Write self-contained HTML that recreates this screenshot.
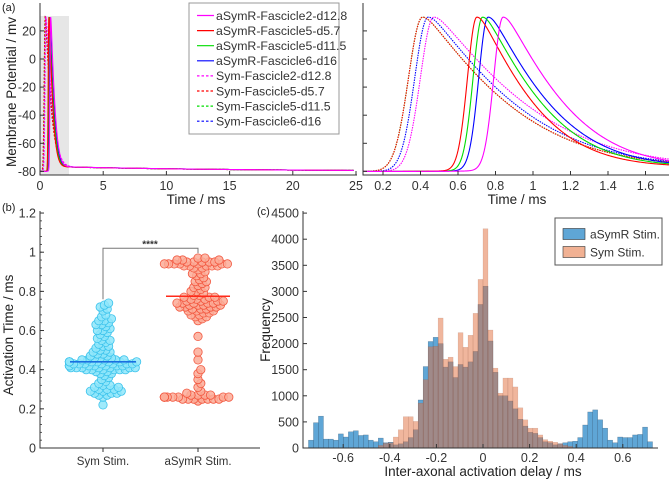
<!DOCTYPE html>
<html><head><meta charset="utf-8"><style>
html,body{margin:0;padding:0;background:#fff;}
svg{display:block;font-family:"Liberation Sans",Arial,sans-serif;}
</style></head><body>
<svg id="fig" width="669" height="479" viewBox="0 0 669 479" xmlns="http://www.w3.org/2000/svg">
<defs>
<clipPath id="clipL"><rect x="40" y="0" width="318" height="176"/></clipPath>
<clipPath id="clipR"><rect x="363" y="0" width="306" height="176"/></clipPath>
</defs>
<g id="gA"></g>
<g id="gB"></g>
<g id="gC"></g>
</svg>
<script>
// ---------- Panel (a) data ----------
const traceNames = ["aSymR-Fascicle2-d12.8","aSymR-Fascicle5-d5.7","aSymR-Fascicle5-d11.5","aSymR-Fascicle6-d16","Sym-Fascicle2-d12.8","Sym-Fascicle5-d5.7","Sym-Fascicle5-d11.5","Sym-Fascicle6-d16"];
const tracePeakTimes = [0.84,0.70,0.73,0.76,0.47,0.41,0.41,0.44];
const tracePeakV = [28,28,28,28,28,28,28,28];
const traceRestV = [-80,-80,-80,-80,-80,-80,-80,-80];
const traceDecayTau = [0.38,0.35,0.37,0.38,0.60,0.55,0.55,0.56];
const traceDecayTau2 = [0.85,0.79,0.82,0.85,1.25,1.2,1.2,1.2];
const traceRiseW = [0.07,0.07,0.07,0.07,0.10,0.105,0.105,0.10];
const traceColors = ["#ff00ff","#ff0000","#00dd00","#0000ff","#ff00ff","#ff0000","#00dd00","#0000ff"];
const traceDashed = [false,false,false,false,true,true,true,true];
const leftXTicks = [0,5,10,15,20,25];
const leftYTicks = [-80,-60,-40,-20,0,20];
const rightXTicks = [0.2,0.4,0.6,0.8,1,1.2,1.4,1.6];

// ---------- Panel (b) data ----------
const symTimes = [0.22,0.26,0.27,0.27,0.28,0.28,0.28,0.29,0.29,0.29,0.30,0.30,0.30,0.31,0.31,0.32,0.32,0.33,0.34,0.35,0.36,0.37,0.38,0.38,0.39,0.39,0.40,0.40,0.40,0.40,0.40,0.40,0.41,0.41,0.41,0.41,0.41,0.41,0.41,0.42,0.42,0.42,0.42,0.42,0.42,0.42,0.42,0.43,0.43,0.43,0.43,0.43,0.43,0.43,0.44,0.44,0.44,0.44,0.44,0.44,0.44,0.44,0.45,0.45,0.45,0.45,0.45,0.46,0.46,0.46,0.47,0.47,0.48,0.48,0.49,0.49,0.50,0.50,0.51,0.52,0.52,0.53,0.54,0.55,0.55,0.56,0.57,0.58,0.59,0.60,0.60,0.61,0.62,0.63,0.63,0.64,0.65,0.65,0.66,0.67,0.68,0.70,0.71,0.72,0.73,0.74];
const asymTimes = [0.24,0.25,0.25,0.25,0.25,0.25,0.25,0.25,0.26,0.26,0.26,0.26,0.26,0.26,0.26,0.26,0.27,0.27,0.27,0.27,0.28,0.29,0.31,0.33,0.35,0.38,0.40,0.45,0.49,0.57,0.65,0.66,0.67,0.67,0.68,0.68,0.69,0.69,0.70,0.70,0.70,0.71,0.71,0.71,0.72,0.72,0.72,0.72,0.73,0.73,0.73,0.73,0.74,0.74,0.74,0.74,0.74,0.75,0.75,0.75,0.75,0.76,0.76,0.76,0.77,0.77,0.77,0.78,0.78,0.79,0.80,0.80,0.81,0.82,0.82,0.83,0.84,0.85,0.85,0.86,0.87,0.88,0.89,0.89,0.90,0.91,0.92,0.92,0.93,0.93,0.93,0.93,0.93,0.94,0.94,0.94,0.94,0.94,0.94,0.94,0.95,0.95,0.95,0.95,0.95,0.96,0.96,0.96,0.97,0.97];
const symMedian = 0.44;
const asymMedian = 0.775;
const bCategories = ["Sym Stim.","aSymR Stim."];
const bYTicks = [0,0.2,0.4,0.6,0.8,1,1.2];

// ---------- Panel (c) data ----------
const binStart = -0.749;
const binWidth = 0.0214;
const asymCounts = [150,485,610,170,170,150,270,210,310,330,240,250,150,120,190,100,110,60,80,120,200,350,920,1560,2040,2120,2000,1550,1650,1350,1600,1550,1650,1850,2750,3100,2050,1450,1000,1000,900,750,550,420,300,280,200,120,100,60,80,100,120,130,200,440,690,730,540,380,150,100,210,200,200,250,260,400,120,0];
const symCounts = [0,0,0,0,0,0,0,0,0,0,0,0,0,0,50,90,100,210,350,600,600,510,860,1310,1940,1950,2490,1700,1740,1560,2210,1930,2160,2580,3230,4200,2260,1530,1050,1340,1340,1170,770,540,380,380,250,160,130,110,80,50,30,0,0,0,0,0,0,0,0,0,0,0,0,0,0,0,0,0];
const cXTicks = [-0.6,-0.4,-0.2,0,0.2,0.4,0.6];
const cYTicks = [0,500,1000,1500,2000,2500,3000,3500,4000,4500];
const cLegend = ["aSymR Stim.","Sym Stim."];

const NS = "http://www.w3.org/2000/svg";
function mk(tag, attrs, parent, text){
  const e = document.createElementNS(NS, tag);
  for (const k in attrs) e.setAttribute(k, attrs[k]);
  if (text !== undefined) e.textContent = text;
  parent.appendChild(e);
  return e;
}
const gA = document.getElementById('gA');
const gB = document.getElementById('gB');
const gC = document.getElementById('gC');

// ===== Panel A =====
const yA = v => 59 - v * 1.405;
const xAL = t => 40 + t * 12.64;
const xAR = t => 383 + (t - 0.2) * 187.5;
function volt(i, t){
  const d = t - tracePeakTimes[i];
  const amp = tracePeakV[i] - traceRestV[i];
  let f;
  if (d < 0) f = Math.exp(-Math.pow(d / traceRiseW[i], 2));
  else { const a = 0.04; const dd = Math.sqrt(d*d + a*a) - a; f = Math.exp(-dd / traceDecayTau[i] - Math.pow(dd / traceDecayTau2[i], 2)); }
  const tail = 3.5 / (1 + Math.exp(-d / 0.08)) * Math.exp(-Math.max(d, 0) / 15);
  return traceRestV[i] + amp * f + tail;
}
let t = mk('text', {x:2, y:11, 'font-size':11, fill:'#222'}, gA, '(a)');
 
let r = mk('rect', {x:40, y:16, width:29, height:159, fill:'#e6e6e6'}, gA);
 
const gLT = mk('g', {'clip-path':'url(#clipL)'}, gA);
 
for (let i = traceNames.length - 1; i >= 0; i--){
  let pts = [];
  for (let tt = 0; tt <= 25.001; tt += (tt < 3 ? 0.01 : 0.2)) pts.push(xAL(tt).toFixed(2) + ',' + yA(volt(i, tt)).toFixed(2));
  const p = mk('polyline', {points: pts.join(' '), fill:'none', stroke: traceColors[i], 'stroke-width': 1.1}, gLT);
  if (traceDashed[i]) p.setAttribute('stroke-dasharray','2,1.6');
  
  
}
let ax = mk('path', {d:'M40,3 V175 H357', fill:'none', stroke:'#333', 'stroke-width':1}, gA);
 
leftYTicks.forEach(v => {
  mk('line', {x1:40, x2:44, y1:yA(v), y2:yA(v), stroke:'#333'}, gA);
  const tx = mk('text', {x:36, y:yA(v)+4.5, 'font-size':12.5, 'text-anchor':'end', fill:'#333'}, gA, String(v));
   
});
leftXTicks.forEach(v => {
  mk('line', {x1:xAL(v), x2:xAL(v), y1:175, y2:171, stroke:'#333'}, gA);
  const tx = mk('text', {x:xAL(v), y:190, 'font-size':12.5, 'text-anchor':'middle', fill:'#333'}, gA, String(v));
   
});
t = mk('text', {x:196, y:204, 'font-size':13.5, 'text-anchor':'middle', fill:'#222'}, gA, 'Time / ms');
 
t = mk('text', {x:0, y:0, 'font-size':13.5, 'text-anchor':'middle', fill:'#222', transform:'translate(16,92) rotate(-90)'}, gA, 'Membrane Potential / mv');
 
const gLeg = mk('g', {}, gA);
 
mk('rect', {x:189, y:3, width:150, height:131, fill:'#fff', stroke:'#999', 'stroke-width':1}, gLeg);
traceNames.forEach((n, i) => {
  const yy = 15.5 + i * 15.1;
  const ln = mk('line', {x1:197, x2:214, y1:yy, y2:yy, stroke:traceColors[i], 'stroke-width':1.2}, gLeg);
  if (traceDashed[i]) ln.setAttribute('stroke-dasharray','2.5,2');
   
  const tx = mk('text', {x:216, y:yy+4.3, 'font-size':12.3, fill:'#333'}, gLeg, n);
   
});
const gRT = mk('g', {'clip-path':'url(#clipR)'}, gA);
 
for (let i = traceNames.length - 1; i >= 0; i--){
  let pts = [];
  for (let tt = 0.08; tt <= 1.75; tt += 0.004) pts.push(xAR(tt).toFixed(2) + ',' + yA(volt(i, tt)).toFixed(2));
  const p = mk('polyline', {points: pts.join(' '), fill:'none', stroke: traceColors[i], 'stroke-width': 1.1}, gRT);
  if (traceDashed[i]) p.setAttribute('stroke-dasharray','1.5,1');
  
  
}
ax = mk('path', {d:'M363,3 V175 H669', fill:'none', stroke:'#333', 'stroke-width':1}, gA);
 
leftYTicks.forEach(v => { mk('line', {x1:363, x2:367, y1:yA(v), y2:yA(v), stroke:'#333'}, gA); });
rightXTicks.forEach(v => {
  mk('line', {x1:xAR(v), x2:xAR(v), y1:175, y2:171, stroke:'#333'}, gA);
  const tx = mk('text', {x:xAR(v), y:190, 'font-size':12.5, 'text-anchor':'middle', fill:'#333'}, gA, String(v));
   
});
t = mk('text', {x:517, y:204, 'font-size':13.5, 'text-anchor':'middle', fill:'#222'}, gA, 'Time / ms');
 

// ===== Panel B =====
const yB = v => 448 - v * 195.8;
const xB = [103, 198];
t = mk('text', {x:2, y:211, 'font-size':11, fill:'#222'}, gB, '(b)');
 
function swarm(vals, cx, fill, stroke, name){
  const placed = [];
  const sorted = vals.slice().sort((a,b)=>a-b);
  const minD = 4.4;
  sorted.forEach(v => {
    const y = yB(v);
    let k = 0, x = cx;
    while (true){
      const off = (k === 0) ? 0 : (k % 2 ? 1 : -1) * Math.ceil(k/2) * 1.4;
      x = cx + off;
      if (!placed.some(p => (p[0]-x)**2 + (p[1]-y)**2 < minD*minD)) break;
      k++;
      if (k > 48) break;
    }
    placed.push([x, y]);
  });
  placed.forEach(p => {
    const c = mk('circle', {cx:p[0].toFixed(1), cy:p[1].toFixed(1), r:4.2, fill:fill, stroke:stroke, 'stroke-width':0.8, 'fill-opacity':0.85}, gB);
    
    
  });
}
swarm(symTimes, xB[0], '#8fe6fa', '#3cc3ec', 'sym-point');
swarm(asymTimes, xB[1], '#fbab98', '#f2573f', 'asymr-point');
let ml = mk('line', {x1:70, x2:136, y1:yB(symMedian), y2:yB(symMedian), stroke:'#1a6fe0', 'stroke-width':1.6}, gB);
 
ml = mk('line', {x1:166, x2:230, y1:yB(asymMedian), y2:yB(asymMedian), stroke:'#ff2a1a', 'stroke-width':1.6}, gB);
 
let br = mk('path', {d:`M103,${yB(0.76)} V${yB(1.02)} H198 V${yB(0.995)}`, fill:'none', stroke:'#777', 'stroke-width':1}, gB);
 
t = mk('text', {x:150, y:yB(1.02)-1, 'font-size':10, 'font-weight':'bold', 'text-anchor':'middle', fill:'#333'}, gB, '****');
 
ax = mk('path', {d:'M40,211 V448 H260', fill:'none', stroke:'#333', 'stroke-width':1}, gB);
 
for (let v = 0; v <= 1.2001; v += 0.04) mk('line', {x1:40, x2:42, y1:yB(v), y2:yB(v), stroke:'#333', 'stroke-width':0.8}, gB);
bYTicks.forEach(v => {
  mk('line', {x1:40, x2:44, y1:yB(v), y2:yB(v), stroke:'#333'}, gB);
  const tx = mk('text', {x:36, y:yB(v)+4.5, 'font-size':12.5, 'text-anchor':'end', fill:'#333'}, gB, String(v));
   
});
bCategories.forEach((c, i) => {
  mk('line', {x1:xB[i], x2:xB[i], y1:448, y2:452, stroke:'#333'}, gB);
  const tx = mk('text', {x:xB[i], y:465, 'font-size':11.5, 'text-anchor':'middle', fill:'#333'}, gB, c);
   
});
t = mk('text', {x:0, y:0, 'font-size':13.5, 'text-anchor':'middle', fill:'#222', transform:'translate(13,335) rotate(-90)'}, gB, 'Activation Time / ms');
 

// ===== Panel C =====
const xC = u => 483 + u * 233;
const yC = v => 448 - v * 0.0522;
t = mk('text', {x:257, y:215, 'font-size':11, fill:'#222'}, gC, '(c)');
 
asymCounts.forEach((v, i) => {
  if (v <= 0) return;
  const x0 = xC(binStart + i * binWidth), x1 = xC(binStart + (i+1) * binWidth);
  const b = mk('rect', {x:x0, y:yC(v), width:x1-x0, height:448-yC(v), fill:'#5fa6d6', stroke:'#2a4a66', 'stroke-width':0.4, 'stroke-opacity':0.6}, gC);
   
});
symCounts.forEach((v, i) => {
  if (v <= 0) return;
  const x0 = xC(binStart + i * binWidth), x1 = xC(binStart + (i+1) * binWidth);
  const b = mk('rect', {x:x0, y:yC(v), width:x1-x0, height:448-yC(v), fill:'rgba(226,110,60,0.5)', stroke:'rgba(120,60,40,0.25)', 'stroke-width':0.4}, gC);
   
});
ax = mk('path', {d:'M303,211 V448 H658', fill:'none', stroke:'#333', 'stroke-width':1}, gC);
 
cYTicks.forEach(v => {
  mk('line', {x1:303, x2:307, y1:yC(v), y2:yC(v), stroke:'#333'}, gC);
  const tx = mk('text', {x:299, y:yC(v)+4.5, 'font-size':12.5, 'text-anchor':'end', fill:'#333'}, gC, String(v));
   
});
cXTicks.forEach(v => {
  mk('line', {x1:xC(v), x2:xC(v), y1:448, y2:444, stroke:'#333'}, gC);
  const tx = mk('text', {x:xC(v), y:462, 'font-size':12.5, 'text-anchor':'middle', fill:'#333'}, gC, String(v));
   
});
t = mk('text', {x:483, y:476, 'font-size':13.5, 'text-anchor':'middle', fill:'#222'}, gC, 'Inter-axonal activation delay / ms');
 
t = mk('text', {x:0, y:0, 'font-size':13.5, 'text-anchor':'middle', fill:'#222', transform:'translate(270,330) rotate(-90)'}, gC, 'Frequency');
 
const gCL = mk('g', {}, gC);
 
mk('rect', {x:555, y:218, width:107, height:47, fill:'#fff', stroke:'#555', 'stroke-width':1}, gCL);
const legFill = ['#5fa6d6','#f1b193'];
cLegend.forEach((n, i) => {
  const yy = 234 + i * 18;
  const s = mk('rect', {x:563, y:yy-5.5, width:22, height:11, fill:legFill[i], stroke:'#333', 'stroke-width':0.6}, gCL);
   
  const tx = mk('text', {x:590, y:yy+4.5, 'font-size':12, fill:'#333'}, gCL, n);
   
});
</script>
</body></html>
